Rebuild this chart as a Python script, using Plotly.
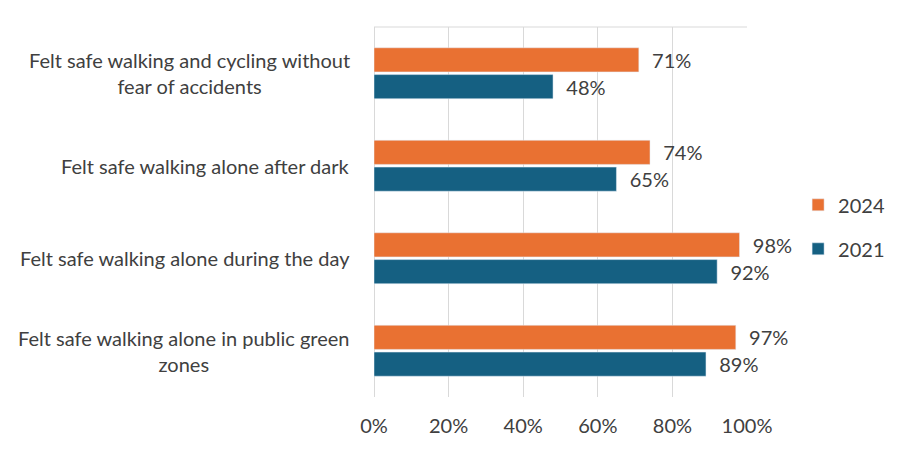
import plotly.graph_objects as go

categories = [
    "Felt safe walking and cycling without<br>fear of accidents",
    "Felt safe walking alone after dark",
    "Felt safe walking alone during the day",
    "Felt safe walking alone in public green<br>zones",
]
vals_2024 = [71, 74, 98, 97]
vals_2021 = [48, 65, 92, 89]
x_ticks = [0, 20, 40, 60, 80, 100]
x_labels = ["0%", "20%", "40%", "60%", "80%", "100%"]

txt = "#404040"
fnt = "Lato"
fs = 20
pad = "\u00a0\u00a0"

fig = go.Figure()
fig.add_trace(go.Bar(
    name="2024", y=categories, x=vals_2024, orientation="h",
    marker_color="#E97132", legendgroup="a",
    text=vals_2024, texttemplate=pad + "%{x}%", textposition="outside",
    textfont=dict(color=txt, size=fs, family=fnt), cliponaxis=False,
))
fig.add_trace(go.Bar(
    name="2021", y=categories, x=vals_2021, orientation="h",
    marker_color="#156082", legendgroup="b",
    text=vals_2021, texttemplate=pad + "%{x}%", textposition="outside",
    textfont=dict(color=txt, size=fs, family=fnt), cliponaxis=False,
))

# category labels as annotations so the two-line ones are centred like the original
for c in categories:
    fig.add_annotation(x=0, y=c, xref="paper", yref="y", text=c, showarrow=False,
                       xanchor="right", xshift=-22, align="center",
                       font=dict(size=fs, color=txt, family=fnt))

# page body adds an 8px offset, so the figure is drawn a bit smaller
fig.update_layout(
    width=892, height=446,
    margin=dict(l=366, r=153, t=19, b=57, autoexpand=False),
    plot_bgcolor="white", paper_bgcolor="white",
    barmode="group", bargap=0.42, bargroupgap=0.1,
    font=dict(family=fnt, size=fs, color=txt),
    showlegend=True,
    legend=dict(x=1.137, y=0.46, xanchor="left", yanchor="middle",
                tracegroupgap=15, itemwidth=30, font=dict(size=fs, color=txt)),
    xaxis=dict(range=[0, 100], tickvals=x_ticks, ticktext=x_labels,
               showgrid=True, gridcolor="#D9D9D9", gridwidth=1,
               zeroline=True, zerolinecolor="#D9D9D9", zerolinewidth=1,
               showline=False, ticks="", ticklabelstandoff=15, automargin=False),
    yaxis=dict(autorange="reversed", showgrid=False, ticks="",
               showticklabels=False, showline=False, automargin=False),
    shapes=[dict(type="line", xref="paper", yref="paper", x0=0, x1=1, y0=1, y1=1,
                 line=dict(color="#D9D9D9", width=1))],
)

fig.write_html("out.html")
